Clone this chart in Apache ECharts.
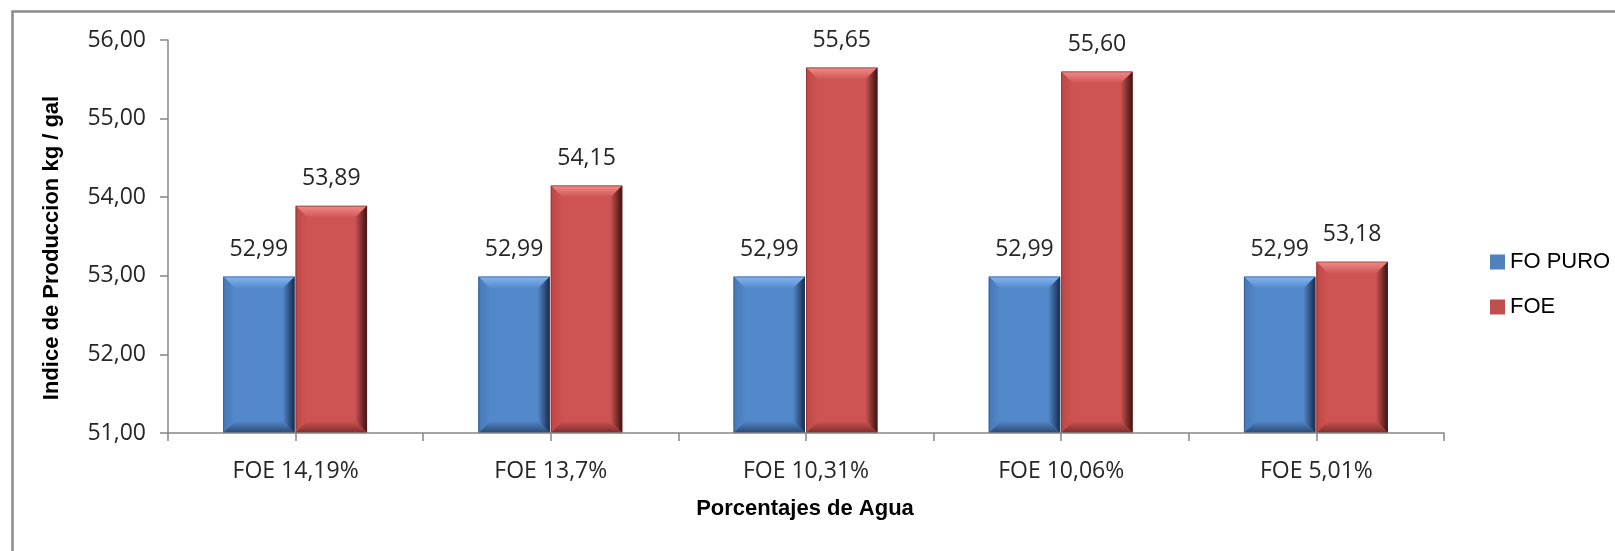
<!DOCTYPE html>
<html>
<head>
<meta charset="utf-8">
<script src="https://cdn.jsdelivr.net/npm/echarts@6/dist/echarts.min.js"></script>
<style>
html,body{margin:0;padding:0;background:#fff;}
#chart{width:1615px;height:551px;}
</style>
</head>
<body>
<div id="chart"></div>
<script>
const categories = ['FOE 14,19%', 'FOE 13,7%', 'FOE 10,31%', 'FOE 10,06%', 'FOE 5,01%'];
const foPuro = [52.99, 52.99, 52.99, 52.99, 52.99];
const foe = [53.89, 54.15, 55.65, 55.60, 53.18];
const seriesNames = ['FO PURO', 'FOE'];
const yMin = 51, yMax = 56, yStep = 1;

const palettes = [
  {face: '#5388CA', top: '#86B6F2', left: '#4779B8', right: '#17294A', bottom: '#284873', stroke: '#2A4670', legend: '#4F81BD'},
  {face: '#CD5452', top: '#F28C8A', left: '#BE4745', right: '#3A1110', bottom: '#7E2B29', stroke: '#6E2624', legend: '#C0504D'}
];

const fmt = v => v.toFixed(2).replace('.', ',');

function makeRender(idx) {
  const p = palettes[idx];
  return function (params, api) {
    const cat = api.value(0);
    const val = api.value(1);
    const base = api.coord([cat, yMin]);
    const topPt = api.coord([cat, val]);
    const cw = api.size([1, 0])[0];
    const bw = cw * 0.28;
    const x0 = idx === 0 ? base[0] - bw - 1 : base[0];
    const x1 = x0 + bw;
    const y0 = topPt[1], y1 = base[1];
    const b = 12;
    return {
      type: 'group',
      children: [
        {type: 'rect', shape: {x: x0, y: y0, width: bw, height: y1 - y0}, style: {fill: p.face}},
        {type: 'polygon', shape: {points: [[x0, y0], [x1, y0], [x1 - b, y0 + b], [x0 + b, y0 + b]]},
          style: {fill: new echarts.graphic.LinearGradient(0, 0, 0, 1, [{offset: 0, color: p.top}, {offset: 1, color: p.face}])}},
        {type: 'polygon', shape: {points: [[x0, y0], [x0 + b, y0 + b], [x0 + b, y1 - b], [x0, y1]]},
          style: {fill: new echarts.graphic.LinearGradient(0, 0, 1, 0, [{offset: 0, color: p.left}, {offset: 1, color: p.face}])}},
        {type: 'polygon', shape: {points: [[x1, y0], [x1 - b, y0 + b], [x1 - b, y1 - b], [x1, y1]]},
          style: {fill: new echarts.graphic.LinearGradient(0, 0, 1, 0, [{offset: 0, color: p.face}, {offset: 1, color: p.right}])}},
        {type: 'polygon', shape: {points: [[x0, y1], [x0 + b, y1 - b], [x1 - b, y1 - b], [x1, y1]]},
          style: {fill: new echarts.graphic.LinearGradient(0, 0, 0, 1, [{offset: 0, color: p.face}, {offset: 1, color: p.bottom}])}},
        {type: 'rect', shape: {x: x0 + 0.5, y: y0 + 0.5, width: bw - 1, height: y1 - y0 - 1}, style: {fill: 'none', stroke: p.stroke, lineWidth: 1, opacity: 0.5}},
        {type: 'text', x: (x0 + x1) / 2, y: y0 - 27,
          style: {text: fmt(val), fill: '#262626', font: '23px "Open Sans"', align: 'center', verticalAlign: 'middle'}}
      ]
    };
  };
}

const chart = echarts.init(document.getElementById('chart'), null, {renderer: 'canvas'});
const axisGray = '#868686';
chart.setOption({
  animation: false,
  color: [palettes[0].legend, palettes[1].legend],
  grid: {left: 168, right: 171, top: 40, bottom: 118},
  legend: {
    orient: 'vertical', left: 1485, top: 245, itemWidth: 15, itemHeight: 15, itemGap: 21,
    icon: 'rect',
    textStyle: {fontFamily: 'Liberation Sans', fontSize: 22, color: '#000', lineHeight: 24},
    data: seriesNames
  },
  xAxis: {
    type: 'value', min: 0, max: categories.length, interval: 0.5, z: 5,
    splitLine: {show: false},
    axisLine: {show: true, lineStyle: {color: axisGray, width: 1.5}},
    axisTick: {show: true, length: 8, lineStyle: {color: axisGray, width: 1.5}},
    axisLabel: {
      fontFamily: 'Open Sans', fontSize: 23, color: '#262626', margin: 27,
      showMinLabel: true, showMaxLabel: true, hideOverlap: false,
      formatter: v => (v % 1 === 0.5 ? categories[Math.floor(v)] : '')
    }
  },
  yAxis: {
    type: 'value', min: yMin, max: yMax, interval: yStep, z: 5,
    axisLine: {show: true, lineStyle: {color: axisGray, width: 1.5}},
    axisTick: {show: true, length: 8, lineStyle: {color: axisGray, width: 1.5}},
    splitLine: {show: false},
    axisLabel: {fontFamily: 'Open Sans', fontSize: 23, color: '#262626', margin: 22, formatter: v => fmt(v)}
  },
  graphic: [
    {type: 'rect', left: 10, top: 9, shape: {width: 1800, height: 800}, style: {fill: 'none', stroke: '#8C8C8C', lineWidth: 2.5}, silent: true},
    {type: 'text', x: 52, y: 248, rotation: Math.PI / 2,
      style: {text: 'Indice de Produccion kg / gal', font: 'bold 22px "Liberation Sans"', fill: '#000', align: 'center', verticalAlign: 'middle'}},
    {type: 'text', x: 805, y: 509,
      style: {text: 'Porcentajes de Agua', font: 'bold 22px "Liberation Sans"', fill: '#000', align: 'center', verticalAlign: 'middle'}}
  ],
  series: [
    {name: seriesNames[0], type: 'custom', renderItem: makeRender(0), data: foPuro.map((v, i) => [i + 0.5, v]), encode: {x: 0, y: 1}, itemStyle: {color: palettes[0].legend}},
    {name: seriesNames[1], type: 'custom', renderItem: makeRender(1), data: foe.map((v, i) => [i + 0.5, v]), encode: {x: 0, y: 1}, itemStyle: {color: palettes[1].legend}}
  ]
});
</script>
</body>
</html>
